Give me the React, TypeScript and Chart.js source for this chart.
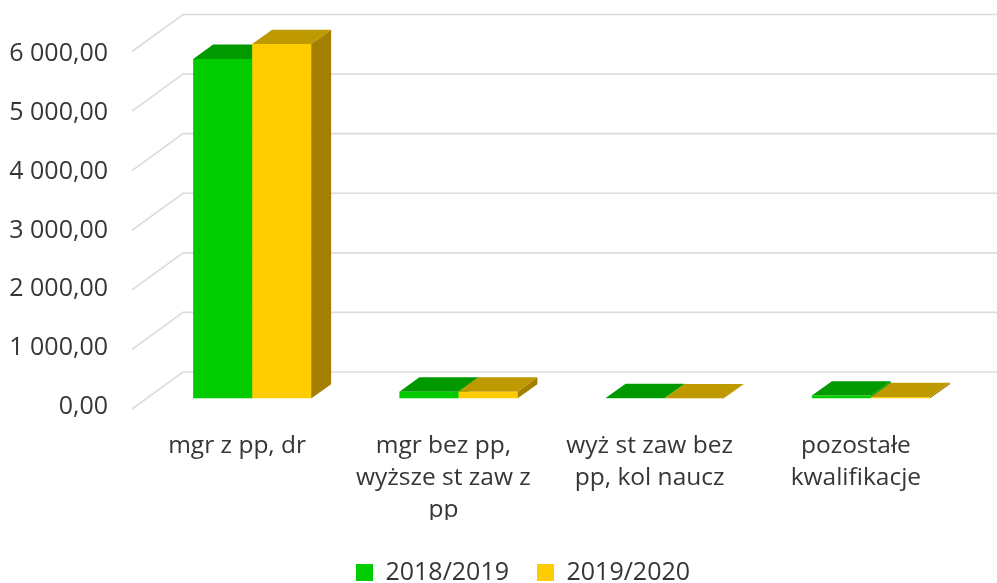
import React, { useEffect, useRef } from "react";
import { Chart, registerables } from "chart.js";

Chart.register(...registerables);

const categories = [
  ["mgr z pp, dr"],
  ["mgr bez pp,", "wyższe st zaw z", "pp"],
  ["wyż st zaw bez", "pp, kol naucz"],
  ["pozostałe", "kwalifikacje"],
];
const series2018 = [5700, 115, 8, 50];
const series2019 = [5950, 115, 4, 25];
const tickLabels = ["0,00", "1 000,00", "2 000,00", "3 000,00", "4 000,00", "5 000,00", "6 000,00"];
const tickValues = [0, 1000, 2000, 3000, 4000, 5000, 6000];
const FONT = "'Open Sans', sans-serif";
const TEXT = "#363636";

const DEPTH = { dx: 20, dy: -14.3 };
const WALL = { backX: 34, backY: -26.5, frontX: -17, frontY: 10.5 };
const shades = [
  { top: "#009900", side: "#00a000" },
  { top: "#bf9900", side: "#a38000" },
];

const poly = (ctx: CanvasRenderingContext2D, pts: number[][], fill: string) => {
  ctx.beginPath();
  pts.forEach(([x, y], i) => (i ? ctx.lineTo(x, y) : ctx.moveTo(x, y)));
  ctx.closePath();
  ctx.fillStyle = fill;
  ctx.fill();
};

const bars3d = {
  id: "bars3d",
  afterLayout(chart: any) {
    chart.legend.left += 36;
    chart.legend.right += 36;
    chart.legend.top += 12;
    chart.legend.bottom += 12;
  },
  beforeDatasetsDraw(chart: any) {
    const { ctx, chartArea, scales, canvas } = chart;
    ctx.save();
    ctx.strokeStyle = "#dcdcdc";
    ctx.lineWidth = 1.6;
    const y = scales.y;
    tickValues.forEach((v) => {
      const py = y.getPixelForValue(v);
      ctx.beginPath();
      ctx.moveTo(chartArea.left + WALL.frontX, py + WALL.frontY);
      ctx.lineTo(chartArea.left + WALL.backX, py + WALL.backY);
      ctx.lineTo(canvas.width, py + WALL.backY);
      ctx.stroke();
    });
    [0, 1].forEach((d) => {
      chart.getDatasetMeta(d).data.forEach((bar: any) => {
        const { x, y: top, width } = bar.getProps(["x", "y", "width"], true);
        const base = y.getPixelForValue(0);
        const l = x - width / 2;
        const r = x + width / 2;
        poly(ctx, [[r, top], [r + DEPTH.dx, top + DEPTH.dy], [r + DEPTH.dx, base + DEPTH.dy], [r, base]], shades[d].side);
        poly(ctx, [[l, top], [r, top], [r + DEPTH.dx, top + DEPTH.dy], [l + DEPTH.dx, top + DEPTH.dy]], shades[d].top);
      });
    });
    ctx.restore();
  },
};

export default function App() {
  const ref = useRef<HTMLCanvasElement>(null);
  useEffect(() => {
    document.body.style.margin = "0";
    const chart = new Chart(ref.current!, {
      type: "bar",
      plugins: [bars3d],
      data: {
        labels: categories,
        datasets: [
          { label: "2018/2019", data: series2018, backgroundColor: "#00cc00", yAxisID: "y" },
          { label: "2019/2020", data: series2019, backgroundColor: "#ffcc00", yAxisID: "y" },
        ],
      },
      options: {
        responsive: false,
        animation: false,
        layout: { padding: { left: 0, right: 23, top: 41, bottom: 0 } },
        datasets: { bar: { categoryPercentage: 0.572, barPercentage: 1 } },
        scales: {
          x: {
            grid: { display: false },
            border: { display: false },
            afterFit: (s: any) => { s.height = 121.5; s.paddingTop = 0; s.paddingBottom = 0; },
            ticks: {
              autoSkip: false,
              maxRotation: 0,
              minRotation: 0,
              padding: 24,
              labelOffset: -15,
              color: TEXT,
              font: { family: FONT, size: 24.5, lineHeight: 1.3 },
            },
          },
          y: { display: false, min: 0, max: 6000 },
          yLabels: {
            position: "left",
            min: 145,
            max: 6221,
            grid: { display: false },
            border: { display: false },
            afterBuildTicks: (s: any) => { s.ticks = tickValues.map((value) => ({ value })); },
            afterFit: (s: any) => { s.width = 149; s.paddingTop = 0; s.paddingBottom = 0; },
            ticks: {
              padding: 33,
              color: TEXT,
              font: { family: FONT, size: 25 },
              callback: (v: any) => tickLabels[tickValues.indexOf(Number(v))],
            },
          },
        },
        plugins: {
          tooltip: { enabled: false },
          legend: {
            position: "bottom",
            labels: {
              boxWidth: 17,
              boxHeight: 17,
              padding: 28,
              color: TEXT,
              font: { family: FONT, size: 25 },
            },
          },
        },
      },
    } as any);
    return () => chart.destroy();
  }, []);
  return <canvas ref={ref} width={997} height={583} style={{ display: "block", filter: "blur(0.35px)" }} />;
}
